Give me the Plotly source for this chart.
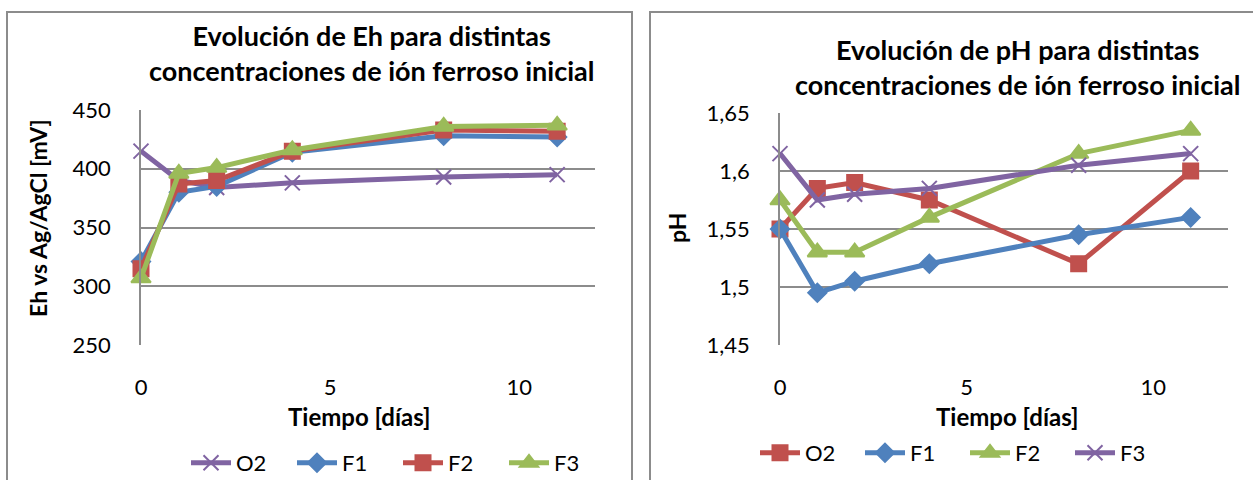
import plotly.graph_objects as go

W, H = 1253, 480

dias = [0, 1, 2, 4, 8, 11]

# Left chart: Eh [mV]
eh_O2 = [415, 390, 384, 388, 393, 395]
eh_F1 = [321, 380, 385, 414, 428, 427]
eh_F2 = [315, 387, 390, 415, 433, 432]
eh_F3 = [307, 396, 401, 416, 436, 437]

# Right chart: pH
ph_O2 = [1.55, 1.585, 1.59, 1.575, 1.52, 1.60]
ph_F1 = [1.55, 1.495, 1.505, 1.52, 1.545, 1.56]
ph_F2 = [1.575, 1.53, 1.53, 1.56, 1.615, 1.635]
ph_F3 = [1.615, 1.575, 1.58, 1.585, 1.605, 1.615]

eh_ticks = [250, 300, 350, 400, 450]
eh_ticklabels = ["250", "300", "350", "400", "450"]
ph_ticks = [1.45, 1.5, 1.55, 1.6, 1.65]
ph_ticklabels = ["1,45", "1,5", "1,55", "1,6", "1,65"]
x_ticks = [0, 5, 10]
x_ticklabels = ["0", "5", "10"]

PURPLE = "#8064A2"
BLUE = "#4F81BD"
RED = "#C0504D"
GREEN = "#9BBB59"
GRID = "#8C8C8C"
FONT = "Lato"


def px(x):
    return x / W


def py(y):
    return 1 - y / H


fig = go.Figure()

sym = {"x": ("x-thin", 15), "diamond": ("diamond", 14), "square": ("square", 15), "triangle-up": ("triangle-up", 17)}


def add(xv, yv, name, color, symbol, xa, ya, legend):
    s, size = sym[symbol]
    fig.add_trace(go.Scatter(
        x=xv, y=yv, name=name, mode="lines+markers",
        line=dict(color=color, width=5),
        marker=dict(symbol=s, size=size, color=color, line=dict(color=color, width=2)),
        xaxis=xa, yaxis=ya, legend=legend, cliponaxis=False,
    ))


add(dias, eh_O2, "O2", PURPLE, "x", "x", "y", "legend")
add(dias, eh_F1, "F1", BLUE, "diamond", "x", "y", "legend")
add(dias, eh_F2, "F2", RED, "square", "x", "y", "legend")
add(dias, eh_F3, "F3", GREEN, "triangle-up", "x", "y", "legend")

add(dias, ph_O2, "O2", RED, "square", "x2", "y2", "legend2")
add(dias, ph_F1, "F1", BLUE, "diamond", "x2", "y2", "legend2")
add(dias, ph_F2, "F2", GREEN, "triangle-up", "x2", "y2", "legend2")
add(dias, ph_F3, "F3", PURPLE, "x", "x2", "y2", "legend2")

tickfont = dict(family=FONT, size=22, color="black")

xcommon = dict(range=[0, 12], tickvals=x_ticks, ticktext=x_ticklabels, showgrid=False,
               zeroline=False, showline=False, ticks="", tickfont=tickfont,
               ticklabelstandoff=27)
ycommon = dict(showgrid=True, gridcolor=GRID, gridwidth=1.5, zeroline=False,
               showline=True, linecolor=GRID, linewidth=1.5, ticks="",
               tickfont=tickfont, ticklabelstandoff=24)

legfont = dict(family=FONT, size=22, color="black")

fig.update_layout(
    width=W, height=H,
    margin=dict(l=0, r=0, t=0, b=0, autoexpand=False),
    paper_bgcolor="white", plot_bgcolor="white",
    font=dict(family=FONT, color="black"),
    showlegend=True,
    xaxis=dict(domain=[px(141), px(595)], anchor="y", **xcommon),
    yaxis=dict(domain=[py(345), py(110)], anchor="x", range=[250, 450],
               tickvals=eh_ticks, ticktext=eh_ticklabels, **ycommon),
    xaxis2=dict(domain=[px(780), px(1228)], anchor="y2", **xcommon),
    yaxis2=dict(domain=[py(345), py(113)], anchor="x2", range=[1.45, 1.65],
                tickvals=ph_ticks, ticktext=ph_ticklabels, **ycommon),
    legend=dict(orientation="h", x=px(186), y=py(463), xanchor="left", yanchor="middle",
                font=legfont, bgcolor="rgba(0,0,0,0)", itemwidth=40,
                entrywidth=51, tracegroupgap=0),
    legend2=dict(orientation="h", x=px(755), y=py(453), xanchor="left", yanchor="middle",
                 font=legfont, bgcolor="rgba(0,0,0,0)", itemwidth=40,
                 entrywidth=50, tracegroupgap=0),
    shapes=[
        dict(type="rect", xref="paper", yref="paper", x0=px(7), x1=px(632), y0=py(490), y1=py(12),
             line=dict(color=GRID, width=2), layer="below"),
        dict(type="rect", xref="paper", yref="paper", x0=px(650), x1=px(1263), y0=py(490), y1=py(12),
             line=dict(color=GRID, width=2), layer="below"),
    ],
)

bold = dict(family=FONT, size=27, color="black")
axt = dict(family=FONT, size=24, color="black")
anns = [
    dict(text="<b>Evolución de Eh para distintas<br>concentraciones de ión ferroso inicial</b>",
         x=px(371), y=py(53), font=bold),
    dict(text="<b>Evolución de pH para distintas<br>concentraciones de ión ferroso inicial</b>",
         x=px(1017), y=py(67), font=bold),
    dict(text="<b>Tiempo [días]</b>", x=px(359), y=py(416), font=axt),
    dict(text="<b>Tiempo [días]</b>", x=px(1007), y=py(416), font=axt),
    dict(text="<b>Eh vs Ag/AgCl [mV]</b>", x=px(38), y=py(218), textangle=-90,
         font=dict(family=FONT, size=23, color="black")),
    dict(text="<b>pH</b>", x=px(677), y=py(228), textangle=-90,
         font=dict(family=FONT, size=23, color="black")),
]
for a in anns:
    fig.add_annotation(xref="paper", yref="paper", showarrow=False, xanchor="center",
                       yanchor="middle", align="center", **a)

fig.write_html("out.html", config={"displayModeBar": False},
               post_script="document.body.style.margin='0';document.body.style.overflow='hidden';")
